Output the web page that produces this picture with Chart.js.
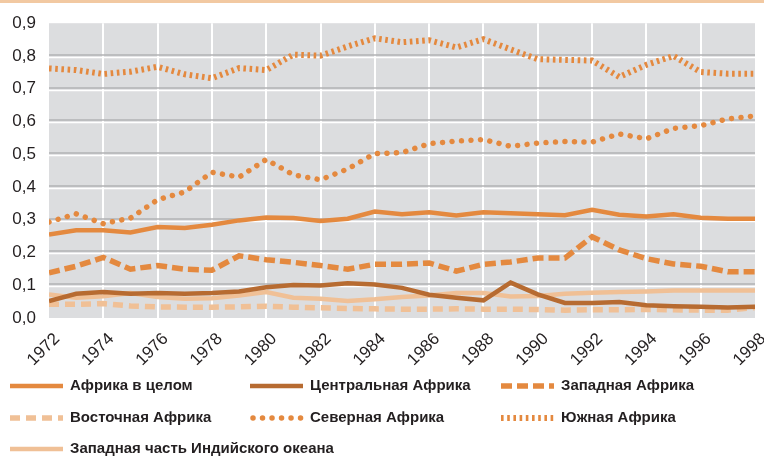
<!DOCTYPE html>
<html>
<head>
<meta charset="utf-8">
<script src="https://cdn.jsdelivr.net/npm/chart.js@4.4.1/dist/chart.umd.min.js"></script>
<style>
  html, body { margin: 0; padding: 0; background: #fff; }
  #wrap { width: 764px; height: 458px; position: relative; }
</style>
</head>
<body>
<div id="wrap"><canvas id="chart" width="764" height="458"></canvas></div>
<script>
// годы
const years = [1972, 1973, 1974, 1975, 1976, 1977, 1978, 1979, 1980, 1981, 1982, 1983, 1984,
  1985, 1986, 1987, 1988, 1989, 1990, 1991, 1992, 1993, 1994, 1995, 1996, 1997, 1998];

const africaTotal = [0.255, 0.268, 0.268, 0.261, 0.278, 0.275, 0.285, 0.298, 0.307, 0.305, 0.296, 0.303, 0.325,
  0.317, 0.323, 0.313, 0.323, 0.320, 0.317, 0.314, 0.330, 0.315, 0.310, 0.317, 0.306, 0.303, 0.303];
const central = [0.052, 0.074, 0.079, 0.074, 0.076, 0.074, 0.076, 0.081, 0.094, 0.101, 0.099, 0.106, 0.102,
  0.092, 0.071, 0.062, 0.054, 0.108, 0.072, 0.046, 0.046, 0.049, 0.039, 0.036, 0.034, 0.032, 0.034];
const west = [0.138, 0.158, 0.185, 0.149, 0.160, 0.149, 0.146, 0.190, 0.178, 0.170, 0.160, 0.149, 0.164,
  0.164, 0.168, 0.143, 0.164, 0.171, 0.183, 0.183, 0.248, 0.208, 0.181, 0.165, 0.158, 0.141, 0.141];
const east = [0.042, 0.042, 0.044, 0.037, 0.034, 0.033, 0.033, 0.034, 0.036, 0.033, 0.031, 0.029, 0.028,
  0.027, 0.027, 0.028, 0.027, 0.027, 0.026, 0.024, 0.025, 0.025, 0.026, 0.025, 0.024, 0.024, 0.032];
const north = [0.293, 0.318, 0.288, 0.305, 0.361, 0.385, 0.445, 0.430, 0.484, 0.437, 0.422, 0.455, 0.502,
  0.505, 0.532, 0.540, 0.545, 0.524, 0.534, 0.539, 0.537, 0.562, 0.547, 0.579, 0.587, 0.608, 0.617];
const south = [0.762, 0.757, 0.745, 0.752, 0.767, 0.744, 0.732, 0.763, 0.757, 0.804, 0.801, 0.829, 0.854,
  0.842, 0.848, 0.826, 0.851, 0.820, 0.790, 0.788, 0.786, 0.736, 0.773, 0.800, 0.751, 0.746, 0.746];
const indianOcean = [0.072, 0.062, 0.066, 0.076, 0.064, 0.059, 0.060, 0.069, 0.079, 0.062, 0.059, 0.052, 0.057,
  0.064, 0.069, 0.076, 0.076, 0.066, 0.067, 0.074, 0.077, 0.079, 0.081, 0.084, 0.084, 0.084, 0.084];

const seriesNames = ["Африка в целом", "Центральная Африка", "Западная Африка", "Восточная Африка",
  "Северная Африка", "Южная Африка", "Западная часть Индийского океана"];

const ORANGE = "#e4893f";
const BROWN = "#b76b31";
const PEACH = "#f0c096";

function pts(arr) {
  return arr.map((v, i) => ({ x: years[i], y: v }));
}

function line(label, values, color, width, dash, cap) {
  return {
    label: label,
    data: pts(values),
    borderColor: color,
    backgroundColor: color,
    borderWidth: width,
    borderDash: dash || [],
    borderCapStyle: cap || "butt",
    borderJoinStyle: "miter",
    pointRadius: 0,
    tension: 0,
    fill: false
  };
}

// фон, сетка с "тенью" и полоса сверху
const backdrop = {
  id: "backdrop",
  beforeDraw(chart) {
    const ctx = chart.ctx, a = chart.chartArea;
    ctx.save();
    ctx.fillStyle = "#f2c9a2";
    ctx.fillRect(0, 0, chart.width, 3);
    ctx.fillStyle = "#dcdddf";
    ctx.fillRect(a.left, a.top, a.right - a.left, a.bottom - a.top);
    const xs = chart.scales.x, ys = chart.scales.y;
    ctx.strokeStyle = "#ffffff";
    ctx.lineWidth = 2;
    for (let yr = 1974; yr < 1998; yr += 2) {
      const px = Math.round(xs.getPixelForValue(yr));
      ctx.beginPath();
      ctx.moveTo(px, a.top);
      ctx.lineTo(px, a.bottom);
      ctx.stroke();
    }
    for (let k = 1; k < 9; k++) {
      const py = Math.round(ys.getPixelForValue(k / 10));
      ctx.strokeStyle = "#b2b2b5";
      ctx.lineWidth = 1.7;
      ctx.beginPath();
      ctx.moveTo(a.left, py - 1);
      ctx.lineTo(a.right, py - 1);
      ctx.stroke();
      ctx.strokeStyle = "#ffffff";
      ctx.lineWidth = 1.6;
      ctx.beginPath();
      ctx.moveTo(a.left, py + 1.5);
      ctx.lineTo(a.right, py + 1.5);
      ctx.stroke();
    }
    ctx.restore();
  }
};

// легенда в три колонки
const legendGrid = {
  id: "legendGrid",
  afterDraw(chart) {
    const ctx = chart.ctx;
    const colX = [10, 250, 501];
    const rowY = [386, 418, 449];
    ctx.save();
    chart.data.datasets.forEach((ds, i) => {
      const x = colX[i % 3], y = rowY[Math.floor(i / 3)];
      ctx.strokeStyle = ds.borderColor;
      ctx.lineWidth = ds.borderWidth;
      ctx.setLineDash(ds.borderDash);
      ctx.lineCap = ds.borderCapStyle;
      ctx.beginPath();
      ctx.moveTo(x + (ds.borderCapStyle === "round" ? 3 : 0), y);
      ctx.lineTo(x + 53, y);
      ctx.stroke();
      ctx.setLineDash([]);
      ctx.fillStyle = "#231f20";
      ctx.font = "bold 15px 'Liberation Sans', Arial, sans-serif";
      ctx.textBaseline = "middle";
      ctx.fillText(ds.label, x + 60, y);
    });
    ctx.restore();
  }
};

new Chart(document.getElementById("chart"), {
  type: "line",
  data: {
    datasets: [
      line(seriesNames[0], africaTotal, ORANGE, 4.5),
      line(seriesNames[1], central, BROWN, 4.5),
      line(seriesNames[2], west, ORANGE, 5.5, [11, 5]),
      line(seriesNames[3], east, PEACH, 5.5, [10, 6]),
      line(seriesNames[4], north, ORANGE, 5.5, [0.01, 9.5], "round"),
      line(seriesNames[5], south, ORANGE, 6, [2.6, 3.6]),
      line(seriesNames[6], indianOcean, PEACH, 4.5)
    ]
  },
  options: {
    responsive: false,
    animation: false,
    layout: { padding: { left: 0, right: 9, top: 17, bottom: 0 } },
    plugins: { legend: { display: false }, tooltip: { enabled: false } },
    scales: {
      x: {
        type: "linear",
        min: 1972,
        max: 1998,
        afterFit(scale) {
          scale.height = 140;
          scale.paddingLeft = 0;
          scale.paddingRight = 0;
        },
        grid: { display: false, drawTicks: false },
        border: { display: false },
        ticks: {
          stepSize: 2,
          autoSkip: false,
          minRotation: 45,
          maxRotation: 45,
          padding: 11,
          labelOffset: 8,
          color: "#231f20",
          font: { family: "'Liberation Sans', Arial, sans-serif", size: 17 },
          callback: (v) => String(v)
        }
      },
      y: {
        min: 0,
        max: 0.9,
        afterFit(scale) { scale.width = 49; },
        grid: { display: false, drawTicks: false },
        border: { display: false },
        ticks: {
          stepSize: 0.1,
          padding: 13,
          color: "#231f20",
          font: { family: "'Liberation Sans', Arial, sans-serif", size: 17 },
          callback: (v) => v.toFixed(1).replace(".", ",")
        }
      }
    }
  },
  plugins: [backdrop, legendGrid]
});
</script>
</body>
</html>
